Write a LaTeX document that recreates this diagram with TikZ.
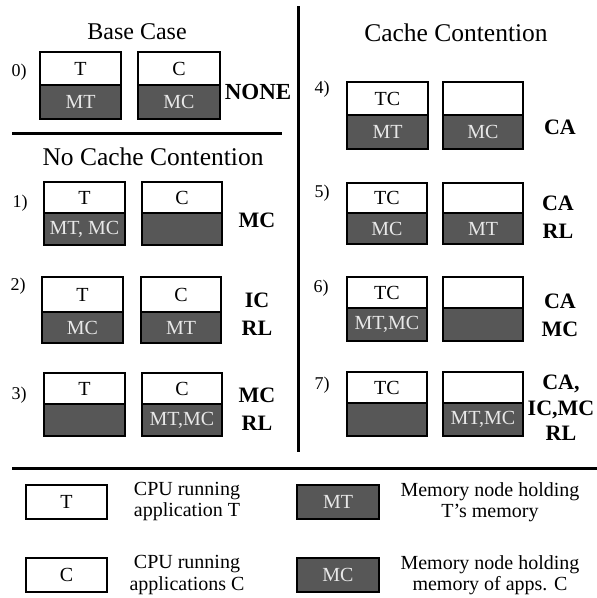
\documentclass[tikz,border=0pt]{standalone}
\usepackage{fontspec}
\setmainfont{Liberation Serif}
\definecolor{memfill}{RGB}{87,87,87}
\definecolor{memtext}{RGB}{232,232,232}
\tikzset{
  cpu/.style={draw=black, line width=2.8pt, fill=white, inner sep=0pt, outer sep=0pt,
    anchor=north west, font=\fontsize{20}{22}\selectfont},
  mem/.style={cpu, fill=memfill, text=memtext},
  heading/.style={font=\fontsize{25.5}{28}\selectfont},
  idx/.style={font=\fontsize{18}{20}\selectfont},
  verdict/.style={font=\fontsize{22}{28}\selectfont\bfseries, align=center},
  legtext/.style={font=\fontsize{20}{21}\selectfont, align=center},
  sepline/.style={line width=3pt}
}
% #1 name, #2 x left, #3 x right, #4 y top, #5 y divider, #6 y bottom, #7 cpu text, #8 memory text
\newcommand\cellpair[8]{%
  \node[mem, minimum width={#3pt-#2pt}, minimum height={#6pt-#5pt}] (#1m) at (#2,#5) {#8};
  \node[cpu, minimum width={#3pt-#2pt}, minimum height={#5pt-#4pt}] (#1c) at (#2,#4) {#7};
}
\begin{document}
\begin{tikzpicture}[x=1pt, y=-1pt]
\useasboundingbox (0,0) rectangle (597,598);

% separators
\coordinate (hl1) at (12,133); \coordinate (hl2) at (282,133);
\coordinate (vl1) at (298,6);  \coordinate (vl2) at (298,452);
\coordinate (bl1) at (12,468); \coordinate (bl2) at (597,468);
\draw[sepline] (hl1) -- (hl2);
\draw[sepline] (vl1) -- (vl2);
\draw[sepline] (bl1) -- (bl2);

% headings
\node[heading, font=\fontsize{24}{27}\selectfont] (hBase) at (137,32) {Base Case};
\node[heading] (hNo) at (153,157) {No Cache Contention};
\node[heading] (hCache) at (456,33) {Cache Contention};

% row 0
\cellpair{r0a}{40}{121}{52}{85}{119}{T}{MT}
\cellpair{r0b}{138}{220}{52}{85}{119}{C}{MC}
\node[idx] (i0) at (19,72) {0)};
\node[verdict, font=\fontsize{23}{28}\selectfont\bfseries] (v0) at (258,92) {NONE};

% row 1
\cellpair{r1a}{44}{125}{182}{213}{245}{T}{MT, MC}
\cellpair{r1b}{142}{222}{182}{213}{245}{C}{}
\node[idx] (i1) at (20,203) {1)};
\node[verdict] (v1) at (257,220) {MC};

% row 2
\cellpair{r2a}{42}{123}{277}{312}{343}{T}{MC}
\cellpair{r2b}{141}{221}{277}{312}{343}{C}{MT}
\node[idx] (i2) at (18,286) {2)};
\node[verdict] (v2) at (257,314) {IC\\RL};

% row 3
\cellpair{r3a}{44}{125}{373}{404}{436}{T}{}
\cellpair{r3b}{142}{222}{373}{404}{436}{C}{MT,MC}
\node[idx] (i3) at (19,395) {3)};
\node[verdict] (v3) at (257,409) {MC\\RL};

% row 4
\cellpair{r4a}{347}{428}{82}{115}{149}{TC}{MT}
\cellpair{r4b}{443}{523}{82}{115}{149}{}{MC}
\node[idx] (i4) at (322,89) {4)};
\node[verdict] (v4) at (560,127) {CA};

% row 5
\cellpair{r5a}{347}{427}{183}{213}{244}{TC}{MC}
\cellpair{r5b}{443}{523}{183}{213}{244}{}{MT}
\node[idx] (i5) at (322,193) {5)};
\node[verdict] (v5) at (558,217) {CA\\RL};

% row 6
\cellpair{r6a}{347}{427}{277}{308}{341}{TC}{MT,MC}
\cellpair{r6b}{443}{523}{277}{308}{341}{}{}
\node[idx] (i6) at (321,288) {6)};
\node[verdict] (v6) at (560,315) {CA\\MC};

% row 7
\cellpair{r7a}{347}{427}{372}{403}{436}{TC}{}
\cellpair{r7b}{443}{523}{372}{403}{436}{}{MT,MC}
\node[idx] (i7) at (322,385) {7)};
\node[verdict, font=\fontsize{22}{25.5}\selectfont\bfseries] (v7) at (561,408) {CA,\\IC,MC\\RL};

% legend
\node[cpu, minimum width=81pt, minimum height=34pt] (lT) at (26,485) {T};
\node[legtext] (lTt) at (187,502) {CPU running\\application T};
\node[mem, minimum width=82pt, minimum height=34pt] (lMT) at (297,485) {MT};
\node[legtext] (lMTt) at (490,502) {Memory node holding\\T’s memory};
\node[cpu, minimum width=81pt, minimum height=34pt] (lC) at (26,558) {C};
\node[legtext] (lCt) at (187,575) {CPU running\\applications C};
\node[mem, minimum width=82pt, minimum height=34pt] (lMC) at (297,558) {MC};
\node[legtext] (lMCt) at (490,575) {Memory node holding\\memory of apps. C};
\end{tikzpicture}
\end{document}
